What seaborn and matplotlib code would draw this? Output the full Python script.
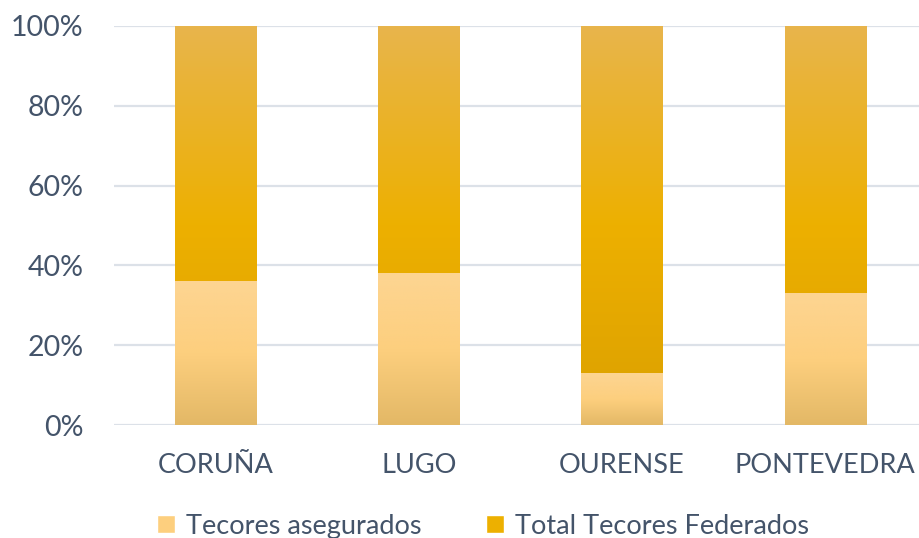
import numpy as np
import pandas as pd
import matplotlib
matplotlib.use('Agg')
import matplotlib.pyplot as plt
from matplotlib.colors import LinearSegmentedColormap
from matplotlib.patches import Patch
import seaborn as sns

# data (percent of total)
categories = ['CORUÑA', 'LUGO', 'OURENSE', 'PONTEVEDRA']
asegurados = [36, 38, 13, 33]
federados = [64, 62, 87, 67]

sns.set_style('white')
plt.rcParams['font.family'] = ['Lato', 'DejaVu Sans']

text_col = '#44546A'
grid_col = '#DCE1E8'
# gradient colours, bottom -> middle -> top
fed_cols = ['#DBA000', '#EDB000', '#E8B54C']
ase_cols = ['#E3B866', '#FDCF7E', '#FDD592']
fed_cmap = LinearSegmentedColormap.from_list('fed', fed_cols)
ase_cmap = LinearSegmentedColormap.from_list('ase', ase_cols)

df = pd.DataFrame({'cat': categories,
                   'ase': asegurados,
                   'total': np.array(asegurados) + np.array(federados)})

fig = plt.figure(figsize=(9.2, 5.38), dpi=100)
ax = fig.add_axes([114 / 920, 1 - 425 / 538, 813 / 920, 399 / 538])

sns.barplot(data=df, x='cat', y='total', color=fed_cols[1], width=0.4,
            ax=ax, zorder=3)
n = len(categories)
sns.barplot(data=df, x='cat', y='ase', color=ase_cols[1], width=0.4,
            ax=ax, zorder=3)

# replace flat fills with vertical gradients
grad = np.linspace(0, 1, 256).reshape(-1, 1)
for i, patch in enumerate(ax.patches):
    cmap = fed_cmap if i < n else ase_cmap
    x0, y0 = patch.get_x(), patch.get_y()
    w, h = patch.get_width(), patch.get_height()
    ax.imshow(grad, extent=[x0, x0 + w, y0, y0 + h], origin='lower',
              aspect='auto', cmap=cmap, zorder=3 + (i >= n) * 0.1,
              interpolation='bilinear')
    patch.set_facecolor('none')
    patch.set_edgecolor('none')

ax.set_xlim(-0.5, 3.5)
ax.set_ylim(0, 100)
ax.set_yticks([0, 20, 40, 60, 80, 100])
ax.set_yticklabels([f'{v}%' for v in [0, 20, 40, 60, 80, 100]])
ax.yaxis.grid(True, color=grid_col, lw=1.6, zorder=0)
ax.set_axisbelow(True)
for s in ax.spines.values():
    s.set_visible(False)
ax.set_xlabel('')
ax.set_ylabel('')
ax.tick_params(axis='y', length=0, pad=22, labelsize=20.5, labelcolor=text_col)
ax.tick_params(axis='x', length=0, pad=20, labelsize=19.5, labelcolor=text_col)

handles = [Patch(facecolor=ase_cols[1], label='Tecores asegurados'),
           Patch(facecolor=fed_cols[1], label='Total Tecores Federados')]
fig.legend(handles=handles, loc='center', bbox_to_anchor=(0.525, 0.022),
           ncol=2, frameon=False, fontsize=19.5, labelcolor=text_col,
           handlelength=0.65, handleheight=0.65, handletextpad=0.4,
           columnspacing=2.4)

fig.savefig('out.png', dpi=100)
